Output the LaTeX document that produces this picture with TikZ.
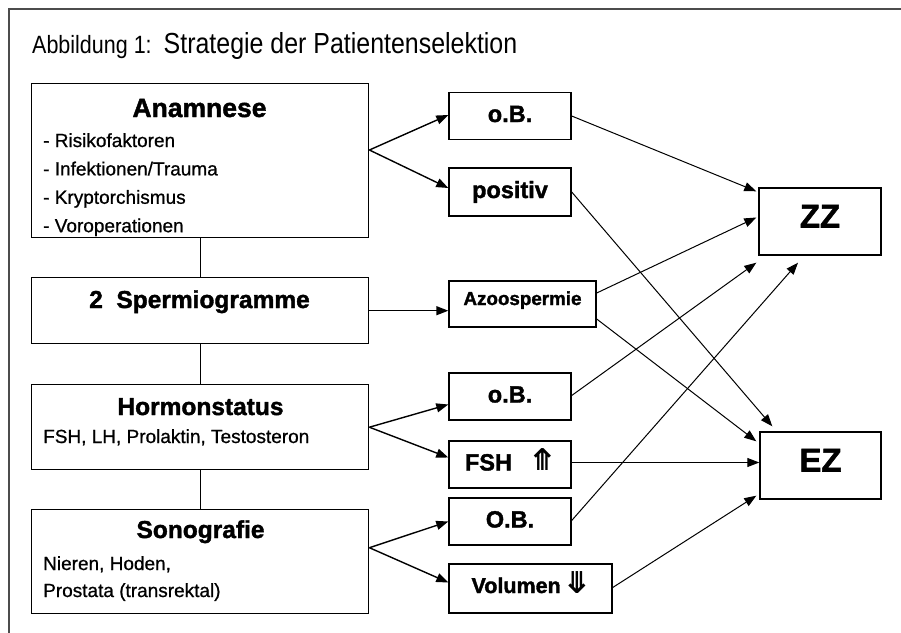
\documentclass[tikz,border=0pt]{standalone}
\usepackage{fontspec}
\setmainfont{Liberation Sans}[FakeBold=0.8, BoldFeatures={FakeBold=1.6}]
\newfontfamily\condfont[FakeStretch=0.86]{Liberation Sans}
\newfontfamily\symfont{DejaVu Sans}
\usetikzlibrary{arrows.meta,positioning}

\tikzset{
  box/.style={draw, line width=1.4pt, inner sep=0pt},
  head/.style={font=\bfseries\fontsize{24.5}{28}\selectfont, anchor=base, inner sep=0pt},
  item/.style={font=\fontsize{19}{22}\selectfont, anchor=base west, inner sep=0pt},
  res/.style={box, font=\bfseries\fontsize{23.5}{26}\selectfont, minimum width=122pt, minimum height=47pt, text height=17pt, text depth=5pt},
  goal/.style={box, font=\bfseries\fontsize{33}{36}\selectfont, minimum width=122pt, minimum height=67pt, text height=24pt, text depth=12pt},
  arr/.style={-{Triangle[length=12pt,width=9pt]}, line width=1.4pt},
  link/.style={-{Triangle[length=12pt,width=9pt]}, line width=1pt},
}

\begin{document}
\begin{tikzpicture}[x=1pt, y=-1pt]

    \useasboundingbox (0,0) rectangle (901,632);

    % Frame
    \draw[black!70, line width=2pt] (9,640) -- (9,9) -- (910,9);

    % Title
    \node[anchor=base west, inner sep=0pt] (title) at (32,53) {{\condfont\fontsize{25}{28}\selectfont Abbildung 1:\hspace{12pt}}{\condfont\fontsize{29}{32}\selectfont Strategie der Patientenselektion}};

    % Diagnostics (left)
    \node[box, anchor=north west, minimum width=337pt, minimum height=154pt] (anam) at (31,83) {};
    \node[box, anchor=north west, minimum width=337pt, minimum height=66pt] (sperm) at (31,277) {};
    \node[box, anchor=north west, minimum width=337pt, minimum height=85pt] (horm) at (31,384) {};
    \node[box, anchor=north west, minimum width=337pt, minimum height=104pt] (sono) at (31,509) {};

    \node[head, font=\bfseries\fontsize{26.5}{30}\selectfont] (anamT) at (199.5,117) {Anamnese};
    \foreach \txt [count=\i] in {Risikofaktoren, Infektionen/Trauma, Kryptorchismus, Voroperationen}
        \node[item] (anam\i) at (43,{147+28.4*(\i-1)}) {- \txt};
    \node[head] (spermT) at (199.5,308) {2\ \ Spermiogramme};
    \node[head] (hormT) at (200.5,415) {Hormonstatus};
    \node[item] (horm1) at (43,443) {FSH, LH, Prolaktin, Testosteron};
    \node[head] (sonoT) at (200.5,538) {Sonografie};
    \node[item] (sono1) at (43,570) {Nieren, Hoden,};
    \node[item] (sono2) at (43,597) {Prostata (transrektal)};

    \draw[line width=1.4pt] (anam) -- (sperm);
    \draw[line width=1.4pt] (sperm) -- (horm);
    \draw[line width=1.4pt] (horm) -- (sono);

    % Findings (middle)
    \node[res] (ob1) at (510,116) {o.B.};
    \node[res, minimum height=48pt] (pos) at (510,192) {positiv};
    \node[res, minimum width=147pt, minimum height=46pt, font=\bfseries\fontsize{18.8}{22}\selectfont, text height=14pt, text depth=12pt] (azo) at (522.5,304) {Azoospermie};
    \node[res] (ob2) at (510,396.5) {o.B.};
    \node[res] (fsh) at (510,464.5) {FSH\hspace{18pt}{\symfont\fontsize{30}{30}\selectfont ⤊}};
    \node[res] (ob3) at (510,521.5) {O.B.};
    \node[res, minimum width=163pt, minimum height=49pt, font=\bfseries\fontsize{21.5}{24}\selectfont, text height=15pt, text depth=6pt] (vol) at (530.5,588.5) {Volumen\,{\symfont\fontsize{30}{30}\selectfont ⤋}};

    % Goals (right)
    \node[goal] (zz) at (820,221.5) {ZZ};
    \node[goal, minimum width=121pt] (ez) at (820.5,465.5) {EZ};

    % Branches
    \coordinate (anamOut) at (anam.east |- 0,150);
    \draw[arr] (anamOut) -- ([yshift=1pt]ob1.west);
    \draw[arr] (anamOut) -- ([yshift=4pt]pos.west);
    \draw[arr] (sperm.east) -- (sperm.east -| azo.west);
    \draw[arr] (horm.east) -- ([yshift=-8pt]ob2.west);
    \draw[arr] (horm.east) -- ([yshift=7pt]fsh.west);
    \draw[arr] ([yshift=14pt]sono.east) -- (ob3.west);
    \draw[arr] ([yshift=14pt]sono.east) -- ([yshift=6pt]vol.west);

    % Paths to ZZ
    \draw[link] (ob1.east) -- ([shift={(-2,4)}]zz.north west);
    \draw[link] ([yshift=11pt]azo.east) -- ([shift={(-2,-4)}]zz.west);
    \draw[link] ([yshift=1pt]ob2.east) -- ([shift={(-2,7)}]zz.south west);
    \draw[link] ([yshift=1pt]ob3.east) -- ([shift={(-22,7)}]zz.south);

    % Paths to EZ
    \draw[link] (pos.east) -- ([shift={(13,-5)}]ez.north west);
    \draw[link] ([yshift=-15pt]azo.east) -- ([shift={(-3,10)}]ez.north west);
    \draw[link] ([yshift=2pt]fsh.east) -- ([yshift=2pt]fsh.east -| ez.west);
    \draw[link] ([yshift=1pt]vol.east) -- ([shift={(-3,-4)}]ez.south west);

\end{tikzpicture}
\end{document}
